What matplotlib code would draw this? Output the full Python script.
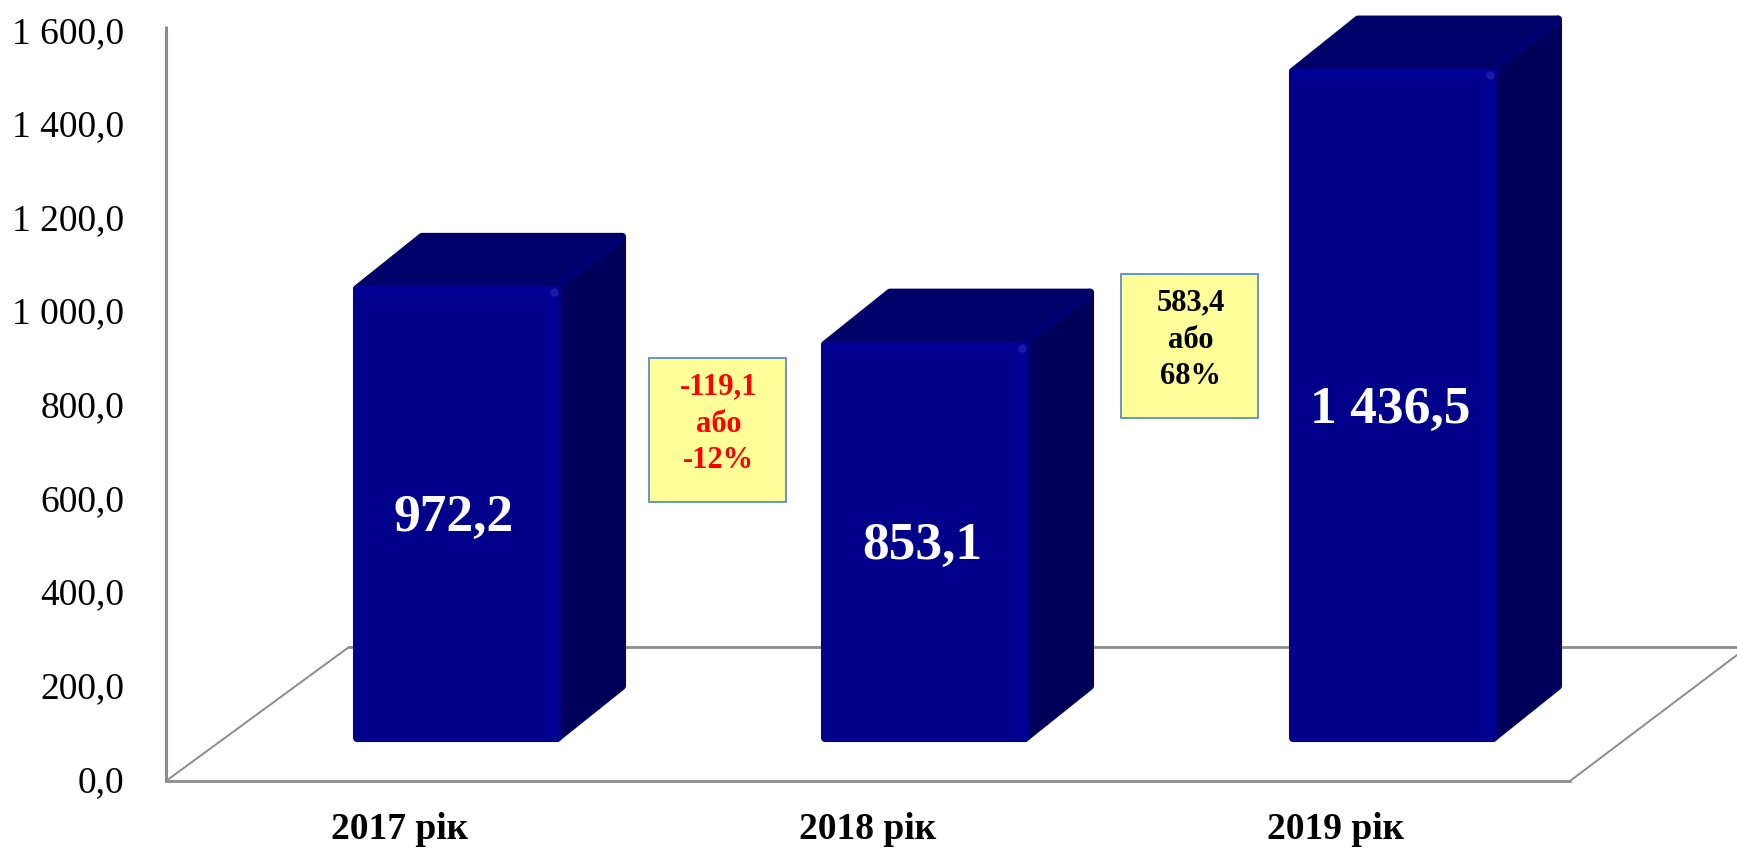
import matplotlib
matplotlib.use('Agg')
import matplotlib.pyplot as plt
from matplotlib.patches import Polygon, Rectangle
from matplotlib.transforms import ScaledTranslation

plt.rcParams['font.family'] = ['Liberation Serif', 'DejaVu Serif']

years = ['2017 рік', '2018 рік', '2019 рік']
values = [972.2, 853.1, 1436.5]
value_labels = ['972,2', '853,1', '1 436,5']
y_ticks = [0, 200, 400, 600, 800, 1000, 1200, 1400, 1600]
y_tick_labels = ['0,0', '200,0', '400,0', '600,0', '800,0', '1 000,0', '1 200,0', '1 400,0', '1 600,0']
change_labels = ['-119,1\nабо\n-12%', '583,4\nабо\n68%']
change_colors = ['#ff0000', '#000000']

W, H = 1737, 848
fig = plt.figure(figsize=(W / 100, H / 100), dpi=100)

# axes box in pixels, x goes 0..3 across the front of the floor
left, right, bottom, top = 166, 1570, 781, 32
ax = fig.add_axes([left / W, 1 - bottom / H, (right - left) / W, (bottom - top) / H])
ax.set_xlim(0, 3)
ax.set_ylim(0, 1600)
ax.patch.set_alpha(0)

xu = 3 / (right - left)
yu = 1600 / (bottom - top)

for s in ['top', 'right', 'bottom', 'left']:
    ax.spines[s].set_visible(False)

grey = '#8c8c8c'
ax.set_xticks([0.5, 1.5, 2.5])
ax.set_xticklabels(years, fontsize=27, fontweight='bold')
ax.set_yticks(y_ticks)
ax.set_yticklabels(y_tick_labels, fontsize=27)
ax.tick_params(axis='both', length=0)
ax.tick_params(axis='x', pad=22)
ax.tick_params(axis='y', pad=30)
up = ScaledTranslation(0, 2.5 / 100, fig.dpi_scale_trans)
for lab in ax.get_yticklabels():
    lab.set_transform(lab.get_transform() + up)

# wall and floor
ax.plot([0, 0], [0, 1612], color=grey, lw=2.2, clip_on=False, zorder=1, solid_capstyle='butt')
ax.plot([0, 3], [0, 0], color=grey, lw=2.0, clip_on=False, zorder=1)
ax.plot([0, 183 * xu], [0, 134 * yu], color=grey, lw=1.4, clip_on=False, zorder=1)
ax.plot([183 * xu, 1571 * xu], [134 * yu, 134 * yu], color=grey, lw=2.0, clip_on=False, zorder=1)
ax.plot([3, 3 + 167 * xu], [0, 126 * yu], color=grey, lw=1.4, clip_on=False, zorder=1)

# 3d bars
bw = 208 * xu
shift = 57 * xu
lift = 41 * yu
dx = 65 * xu
dy = 52 * yu
r = 4 * xu
ry = 4 * yu
corner = 5.8
front_c = '#00008b'
top_c = '#000069'
side_c = '#00005a'
edge_c = '#000098'

for i, v in enumerate(values):
    x0 = i + 0.5 + shift - bw / 2
    x1 = x0 + bw
    y0 = lift - 2 * yu
    y1 = lift + v
    ax.add_patch(Polygon([(x1 - r, y0 + ry), (x1 + dx - r, y0 + dy + ry), (x1 + dx - r, y1 + dy - ry), (x1, y1)],
                         fc=side_c, ec=side_c, lw=corner, joinstyle='round', zorder=3, clip_on=False))
    ax.add_patch(Polygon([(x0 + r, y1 - ry), (x0 + dx + r, y1 + dy - ry), (x1 + dx - r, y1 + dy - ry), (x1 - r, y1 - ry)],
                         fc=top_c, ec=top_c, lw=corner, joinstyle='round', zorder=4, clip_on=False))
    ax.add_patch(Polygon([(x1 - r, y1 + 2 * yu), (x1 + dx - 2 * r, y1 + dy - 2 * ry)], closed=False, fill=False,
                         ec='#000078', lw=4, alpha=0.8, zorder=4.5, clip_on=False))
    ax.add_patch(Polygon([(x0 + r, y0 + ry), (x1 - r, y0 + ry), (x1 - r, y1 - ry), (x0 + r, y1 - ry)],
                         fc=front_c, ec=front_c, lw=corner, joinstyle='round', zorder=5, clip_on=False))
    # lighter bevel along the right and top edges of the front
    ax.plot([x1 - 9 * xu, x1 - 9 * xu], [y0 + ry, y1 - 6 * yu], color=edge_c, lw=8, alpha=0.6, zorder=6,
            solid_capstyle='butt', clip_on=False)
    ax.plot([x0 + 6 * xu, x1 - 8 * xu], [y1 - 6 * yu, y1 - 6 * yu], color=edge_c, lw=5, zorder=6, clip_on=False)
    ax.plot([x1 - 7 * xu], [y1 - 7 * yu], 'o', ms=6, color='#1a1aa8', mew=0, zorder=7, clip_on=False)
    ax.text((x0 + x1) / 2 - 3 * xu, lift + 0.5 * v - 6 * yu, value_labels[i],
            color='white', fontsize=38.5, fontweight='bold', ha='center', va='center', zorder=8)

# change boxes, placed in pixels
boxes = [(649, 358, 137, 144), (1121, 274, 137, 144)]
for (bx, by, bw_px, bh_px), txt, col in zip(boxes, change_labels, change_colors):
    fig.add_artist(Rectangle((bx / W, 1 - (by + bh_px) / H), bw_px / W, bh_px / H, transform=fig.transFigure,
                             fc='#ffff99', ec='#5b8bd0', lw=1.3, zorder=10))
    fig.text((bx + bw_px / 2 + 1) / W, 1 - (by + 66) / H, txt, color=col, fontsize=22, fontweight='bold',
             ha='center', va='center', linespacing=1.35, zorder=11)

fig.savefig('out.png', dpi=100)
